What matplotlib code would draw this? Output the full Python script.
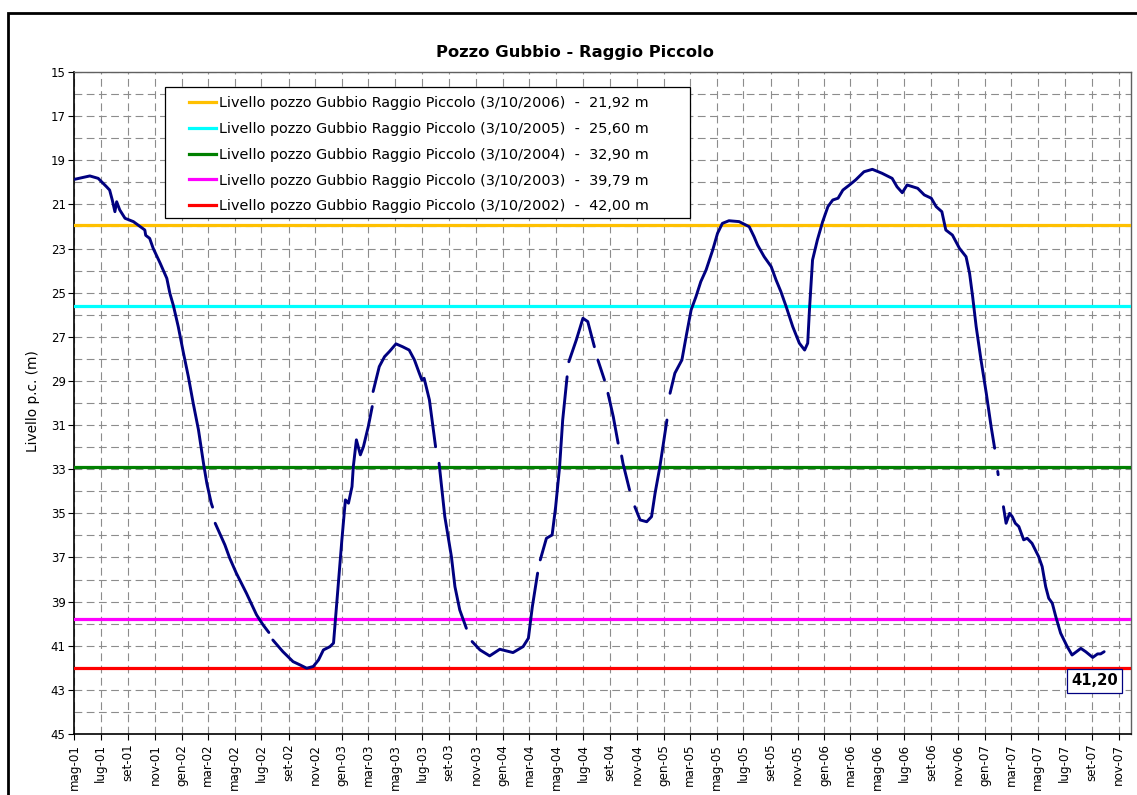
import matplotlib
matplotlib.use("Agg")
import matplotlib.pyplot as plt
import matplotlib.dates as mdates
import numpy as np
import pandas as pd
from matplotlib.patches import Rectangle

# ---------------- data ----------------
dates = [
    "2001-05-03", "2001-06-06", "2001-06-25", "2001-07-14", "2001-07-21", "2001-07-27",
    "2001-08-02", "2001-08-06", "2001-08-13", "2001-08-25", "2001-09-13", "2001-09-28",
    "2001-10-09", "2001-10-11", "2001-10-20", "2001-10-28", "2001-11-13", "2001-11-28",
    "2001-12-05", "2001-12-13", "2001-12-24", "2002-01-05", "2002-01-16", "2002-01-27",
    "2002-02-08", "2002-02-20", "2002-02-27", "2002-03-09", "2002-03-12",
    "2002-03-15",
    "2002-03-18", "2002-03-28", "2002-04-09", "2002-04-20", "2002-05-05", "2002-05-28",
    "2002-06-20", "2002-07-05", "2002-07-18",
    "2002-07-22",
    "2002-07-27", "2002-08-19", "2002-09-11", "2002-09-27", "2002-10-12", "2002-10-27",
    "2002-11-08", "2002-11-19", "2002-12-04", "2002-12-12", "2002-12-15", "2002-12-23",
    "2002-12-31", "2003-01-08", "2003-01-15", "2003-01-23", "2003-01-26", "2003-02-02",
    "2003-02-11", "2003-02-18", "2003-03-01", "2003-03-10",
    "2003-03-11",
    "2003-03-12", "2003-03-26", "2003-04-07", "2003-04-18", "2003-05-03", "2003-05-18",
    "2003-06-02", "2003-06-14", "2003-06-25", "2003-07-01", "2003-07-06", "2003-07-18",
    "2003-08-01",
    "2003-08-05",
    "2003-08-09", "2003-08-22", "2003-09-06", "2003-09-14", "2003-09-25", "2003-10-10",
    "2003-10-16",
    "2003-10-23", "2003-11-10", "2003-12-02", "2003-12-25", "2004-01-24", "2004-02-16",
    "2004-02-28", "2004-03-08", "2004-03-20",
    "2004-03-23",
    "2004-03-26", "2004-04-09", "2004-04-22", "2004-04-30", "2004-05-09", "2004-05-16",
    "2004-05-26",
    "2004-05-28",
    "2004-05-30", "2004-06-16", "2004-07-01", "2004-07-12", "2004-07-27",
    "2004-07-31",
    "2004-08-04", "2004-08-19",
    "2004-08-23",
    "2004-08-27", "2004-09-08", "2004-09-19",
    "2004-09-23",
    "2004-09-27", "2004-09-30", "2004-10-15",
    "2004-10-20",
    "2004-10-27", "2004-11-08", "2004-11-23", "2004-12-04", "2004-12-12", "2004-12-23",
    "2005-01-08",
    "2005-01-12",
    "2005-01-15", "2005-01-26", "2005-02-11", "2005-02-22", "2005-03-04", "2005-03-15",
    "2005-03-26", "2005-04-07", "2005-04-22", "2005-05-03", "2005-05-14", "2005-05-29",
    "2005-06-21", "2005-07-14", "2005-07-25", "2005-08-02", "2005-08-17", "2005-09-02",
    "2005-09-13", "2005-09-24", "2005-10-06", "2005-10-21", "2005-11-05", "2005-11-17",
    "2005-11-24", "2005-11-28", "2005-12-05", "2005-12-16", "2005-12-28", "2006-01-09",
    "2006-01-20", "2006-02-01", "2006-02-12", "2006-02-27", "2006-03-13", "2006-04-01",
    "2006-04-20", "2006-05-12", "2006-06-04", "2006-06-15", "2006-06-27", "2006-07-08",
    "2006-08-01", "2006-08-16", "2006-09-01", "2006-09-12", "2006-09-25", "2006-10-04",
    "2006-10-19", "2006-11-04", "2006-11-19", "2006-11-27", "2006-12-04", "2006-12-12",
    "2006-12-23", "2007-01-04", "2007-01-15", "2007-01-23",
    "2007-01-27",
    "2007-01-30", "2007-01-31",
    "2007-02-06",
    "2007-02-12", "2007-02-18", "2007-02-26", "2007-03-04", "2007-03-11", "2007-03-19",
    "2007-03-30", "2007-04-07", "2007-04-18", "2007-05-03", "2007-05-11", "2007-05-19",
    "2007-05-26", "2007-06-03", "2007-06-11", "2007-06-22", "2007-07-07", "2007-07-18",
    "2007-08-07", "2007-08-18", "2007-09-03", "2007-09-14", "2007-09-21", "2007-09-29",
]
levels = [
    19.86, 19.71, 19.82, 20.20, 20.35, 20.80,
    21.33, 20.88, 21.25, 21.63, 21.78, 22.00,
    22.16, 22.40, 22.54, 22.99, 23.67, 24.35,
    25.03, 25.59, 26.54, 27.75, 28.81, 30.01,
    31.22, 32.81, 33.64, 34.54, 34.72,
    None,
    35.45, 35.90, 36.43, 37.03, 37.71, 38.62,
    39.60, 40.06, 40.40,
    None,
    40.74, 41.27, 41.72, 41.87, 42.02, 41.94,
    41.64, 41.19, 41.04, 40.88, 40.13, 38.17,
    36.20, 34.39, 34.54, 33.79, 32.88, 31.67,
    32.35, 31.98, 31.07, 30.16,
    None,
    29.48, 28.35, 27.90, 27.67, 27.32, 27.45,
    27.60, 28.05, 28.65, 28.96, 28.88, 29.86,
    31.98,
    None,
    32.73, 35.15, 36.96, 38.32, 39.38, 40.21,
    None,
    40.81, 41.19, 41.46, 41.16, 41.31, 41.04,
    40.66, 39.23, 37.71,
    None,
    37.11, 36.13, 35.98, 34.70, 32.88, 30.77,
    28.81,
    None,
    28.13, 27.14, 26.16, 26.31, 27.45,
    None,
    28.05, 28.96,
    None,
    29.56, 30.62, 31.82,
    None,
    32.40, 32.73, 33.94,
    None,
    34.70, 35.30, 35.38, 35.15, 34.09, 32.88,
    30.77,
    None,
    29.56, 28.65, 28.05, 26.84, 25.78, 25.18,
    24.50, 23.97, 23.07, 22.31, 21.86, 21.74,
    21.78, 22.01, 22.46, 22.84, 23.37, 23.82,
    24.42, 24.95, 25.63, 26.54, 27.29, 27.60,
    27.29, 25.78, 23.52, 22.61, 21.78, 21.10,
    20.80, 20.72, 20.35, 20.12, 19.89, 19.52,
    19.41, 19.59, 19.82, 20.20, 20.47, 20.12,
    20.27, 20.57, 20.72, 21.10, 21.33, 22.16,
    22.39, 22.99, 23.37, 24.12, 25.18, 26.54,
    28.05, 29.56, 31.07, 32.05,
    None,
    33.10, 33.25,
    None,
    34.70, 35.45, 35.00, 35.15, 35.45, 35.60,
    36.20, 36.13, 36.36, 36.96, 37.41, 38.32,
    38.85, 39.07, 39.68, 40.43, 41.04, 41.42,
    41.12, 41.27, 41.53, 41.37, 41.37, 41.27,
]

ref_labels = [
    "Livello pozzo Gubbio Raggio Piccolo (3/10/2006)  -  21,92 m",
    "Livello pozzo Gubbio Raggio Piccolo (3/10/2005)  -  25,60 m",
    "Livello pozzo Gubbio Raggio Piccolo (3/10/2004)  -  32,90 m",
    "Livello pozzo Gubbio Raggio Piccolo (3/10/2003)  -  39,79 m",
    "Livello pozzo Gubbio Raggio Piccolo (3/10/2002)  -  42,00 m",
]
ref_levels = [21.92, 25.60, 32.90, 39.79, 42.00]
ref_colors = ["#FFC000", "#00FFFF", "#008000", "#FF00FF", "#FF0000"]

last_value_label = "41,20"
title = "Pozzo Gubbio - Raggio Piccolo"
ylabel = "Livello p.c. (m)"
month_names = ["gen", "feb", "mar", "apr", "mag", "giu",
               "lug", "ago", "set", "ott", "nov", "dic"]

# ---------------- figure ----------------
plt.rcParams["font.family"] = ["DejaVu Sans"]
W, H = 1137, 795
fig = plt.figure(figsize=(W / 100, H / 100), dpi=100)
AX_L, AX_R, AX_T, AX_B = 74, 1131, 72, 734
ax = fig.add_axes([AX_L / W, 1 - AX_B / H, (AX_R - AX_L) / W, (AX_B - AX_T) / H])

x = pd.to_datetime(dates)
y = np.array([np.nan if v is None else v for v in levels], dtype=float)

xmin = pd.Timestamp("2001-05-01")
xmax = pd.Timestamp("2007-11-29")

# reference horizontal lines
handles = []
for lvl, col, lab in zip(ref_levels, ref_colors, ref_labels):
    h = ax.axhline(lvl, color=col, lw=2.3, zorder=3, label=lab)
    handles.append(h)

ax.plot(x, y, color="#000080", lw=2.1, zorder=4, solid_capstyle="round")

ax.set_xlim(xmin, xmax)
ax.set_ylim(45, 15)

# ticks
ticks = pd.date_range("2001-05-01", "2007-11-01", freq="2MS")
ax.set_xticks(mdates.date2num(ticks))
ax.set_xticklabels([f"{month_names[t.month - 1]}-{t.year % 100:02d}" for t in ticks],
                   rotation=90, fontsize=8.6)
ax.set_yticks(np.arange(15, 46, 2))
ax.set_yticks(np.arange(15, 46, 1), minor=True)
ax.tick_params(axis="y", which="major", length=4, direction="out", labelsize=8.5, pad=2, width=0.8)
ax.tick_params(axis="y", which="minor", length=0)
ax.tick_params(axis="x", which="major", length=4, direction="out", pad=3, width=0.8)

ax.grid(True, which="both", axis="y", color="#8c8c8c", lw=0.8, linestyle=(0, (7, 4)), zorder=1)
ax.grid(True, which="major", axis="x", color="#8c8c8c", lw=0.8, linestyle=(0, (7, 4)), zorder=1)

for s in ["left", "bottom"]:
    ax.spines[s].set_color("black")
    ax.spines[s].set_linewidth(1.2)
for s in ["top", "right"]:
    ax.spines[s].set_color("#606060")
    ax.spines[s].set_linewidth(1.0)

fig.text(575 / W, 1 - 52 / H, title, fontsize=11.8, fontweight="bold", ha="center", va="center")
fig.text(33 / W, 1 - 401 / H, ylabel, fontsize=9.8, rotation=90, ha="center", va="center")

# legend box (drawn separately to reproduce the wide padding)
ax.add_patch(Rectangle((165 / W, 1 - 218 / H), (690 - 165) / W, (218 - 87) / H,
                       transform=fig.transFigure, fc="white", ec="black", lw=0.9,
                       zorder=5, clip_on=False))
leg = ax.legend(handles=handles, loc="upper left",
                bbox_to_anchor=(189 / W, 1 - 96 / H), bbox_transform=fig.transFigure,
                fontsize=10.4, frameon=False,
                handlelength=1.9, handletextpad=0.15, labelspacing=0.82,
                borderpad=0, borderaxespad=0)
leg.set_zorder(6)

# value label of the last reading
last_idx = max(i for i, v in enumerate(levels) if v is not None)
ax.annotate(last_value_label, xy=(mdates.date2num(x[last_idx]), 42.0),
            xytext=(-7, -9.5), textcoords="offset points", ha="center", va="center",
            fontsize=10.6, fontweight="bold", zorder=7,
            bbox=dict(boxstyle="square,pad=0.28", fc="white", ec="#000080", lw=0.9))

# outer chart border (only left/top visible in crop)
fig.patches.append(Rectangle((8 / W, -0.1), 1.2, 1 - 13 / H + 0.1, transform=fig.transFigure,
                             fill=False, ec="black", lw=2.0))

fig.savefig("out.png", dpi=100)
